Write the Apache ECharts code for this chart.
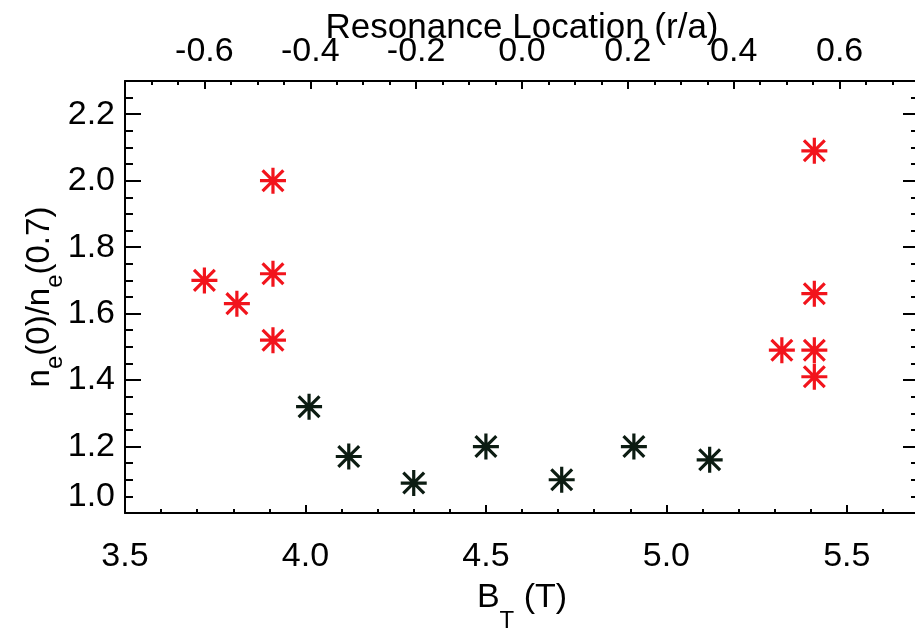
<!DOCTYPE html>
<html>
<head>
<meta charset="utf-8">
<script src="https://cdn.jsdelivr.net/npm/echarts@6/dist/echarts.min.js"></script>
<style>
  html, body { margin: 0; padding: 0; background: #ffffff; }
  #chart { width: 915px; height: 628px; }
</style>
</head>
<body>
<div id="chart"></div>
<script>
// Central-to-edge density ratio versus toroidal field
const btHigh = [3.72, 3.81, 3.91, 3.91, 3.91, 5.41, 5.41, 5.32, 5.41, 5.41];
const ratioHigh = [1.70, 1.63, 2.00, 1.72, 1.52, 2.09, 1.66, 1.49, 1.49, 1.41];
const btLow = [4.01, 4.12, 4.30, 4.50, 4.71, 4.91, 5.12];
const ratioLow = [1.32, 1.17, 1.09, 1.20, 1.10, 1.20, 1.16];

const btRange = [3.5, 5.7];
const rhoRange = [-0.75, 0.75];
const ratioRange = [1.0, 2.3];

const FONT = "'Liberation Sans', Arial, Helvetica, sans-serif";
const INK = '#000000';
const RED = '#f2141c';
const DARK = '#0c1c12';
const TICK_FONT = 34;

// eight-armed asterisk
const STAR = 'path://M0,-10L0,10M-10,0L10,0M-8,-8L8,8M-8,8L8,-8';

function pairs(xs, ys) { return xs.map((x, i) => [x, ys[i]]); }

const lineStyle = { color: INK, width: 2 };

function baseAxis(extra) {
  return Object.assign({
    type: 'value',
    axisLine: { show: true, onZero: false, lineStyle: lineStyle },
    splitLine: { show: false },
    minorSplitLine: { show: false },
  }, extra);
}

const chart = echarts.init(document.getElementById('chart'), null, { renderer: 'canvas' });

chart.setOption({
  animation: false,
  backgroundColor: '#ffffff',
  textStyle: { fontFamily: FONT },
  grid: { left: 125, top: 81, width: 794, height: 432, containLabel: false, outerBoundsMode: 'none' },
  xAxis: [
    baseAxis({
      position: 'bottom',
      min: btRange[0], max: btRange[1], interval: 0.5,
      axisTick: { inside: true, length: 8, lineStyle: lineStyle },
      minorTick: { show: true, splitNumber: 5, length: 4, lineStyle: lineStyle },
      axisLabel: {
        margin: 27, color: INK, fontSize: TICK_FONT, fontFamily: FONT,
        showMaxLabel: false,
        formatter: v => v.toFixed(1)
      },
      name: '{m|B}{s|T}{m| (T)}',
      nameLocation: 'middle',
      nameGap: 68,
      nameTextStyle: {
        rich: {
          m: { fontSize: 34, fontFamily: FONT, color: INK, lineHeight: 52, verticalAlign: 'top' },
          s: { fontSize: 24, fontFamily: FONT, color: INK, lineHeight: 24, verticalAlign: 'bottom' }
        }
      }
    }),
    baseAxis({
      position: 'top',
      min: rhoRange[0], max: rhoRange[1],
      splitNumber: 7, minInterval: 0.2, maxInterval: 0.2,
      axisTick: { inside: true, length: 8, lineStyle: lineStyle },
      minorTick: { show: true, splitNumber: 4, length: 4, lineStyle: lineStyle },
      axisLabel: {
        margin: 12, color: INK, fontSize: TICK_FONT, fontFamily: FONT,
        showMinLabel: false, showMaxLabel: false,
        formatter: v => v.toFixed(1)
      },
      name: 'Resonance Location (r/a)',
      nameLocation: 'middle',
      nameGap: 35,
      nameMoveOverlap: false,
      nameTextStyle: { fontSize: 35, fontFamily: FONT, color: INK }
    })
  ],
  yAxis: [
    baseAxis({
      position: 'left',
      min: ratioRange[0], max: ratioRange[1], interval: 0.2,
      axisTick: { inside: true, length: 16, lineStyle: lineStyle },
      minorTick: { show: true, splitNumber: 4, length: 8, lineStyle: lineStyle },
      axisLabel: {
        margin: 10, color: INK, fontSize: TICK_FONT, fontFamily: FONT,
        showMaxLabel: false,
        formatter: v => (Math.abs(v - ratioRange[0]) < 1e-9 ? '{lift|' + v.toFixed(1) + '}' : v.toFixed(1)),
        rich: { lift: { fontSize: TICK_FONT, fontFamily: FONT, color: INK, padding: [0, 0, 32, 0] } }
      },
      name: '{m|n}{s|e}{m|(0)/n}{s|e}{m|(0.7)}',
      nameLocation: 'middle',
      nameGap: 58,
      nameMoveOverlap: false,
      nameTextStyle: {
        rich: {
          m: { fontSize: 33, fontFamily: FONT, color: INK, lineHeight: 44, verticalAlign: 'top' },
          s: { fontSize: 24, fontFamily: FONT, color: INK, lineHeight: 24, verticalAlign: 'bottom' }
        }
      }
    }),
    baseAxis({
      position: 'right',
      min: ratioRange[0], max: ratioRange[1], interval: 0.2,
      axisTick: { inside: true, length: 16, lineStyle: lineStyle },
      minorTick: { show: true, splitNumber: 4, length: 8, lineStyle: lineStyle },
      axisLabel: { show: false }
    })
  ],
  series: [
    {
      type: 'scatter',
      xAxisIndex: 0, yAxisIndex: 0,
      data: pairs(btHigh, ratioHigh),
      symbol: STAR, symbolSize: 26,
      itemStyle: { color: 'none', borderColor: RED, borderWidth: 3.2, opacity: 1 },
      emphasis: { disabled: true },
      z: 3
    },
    {
      type: 'scatter',
      xAxisIndex: 0, yAxisIndex: 0,
      data: pairs(btLow, ratioLow),
      symbol: STAR, symbolSize: 26,
      itemStyle: { color: 'none', borderColor: DARK, borderWidth: 3.2, opacity: 1 },
      emphasis: { disabled: true },
      z: 3
    }
  ]
});
</script>
</body>
</html>
